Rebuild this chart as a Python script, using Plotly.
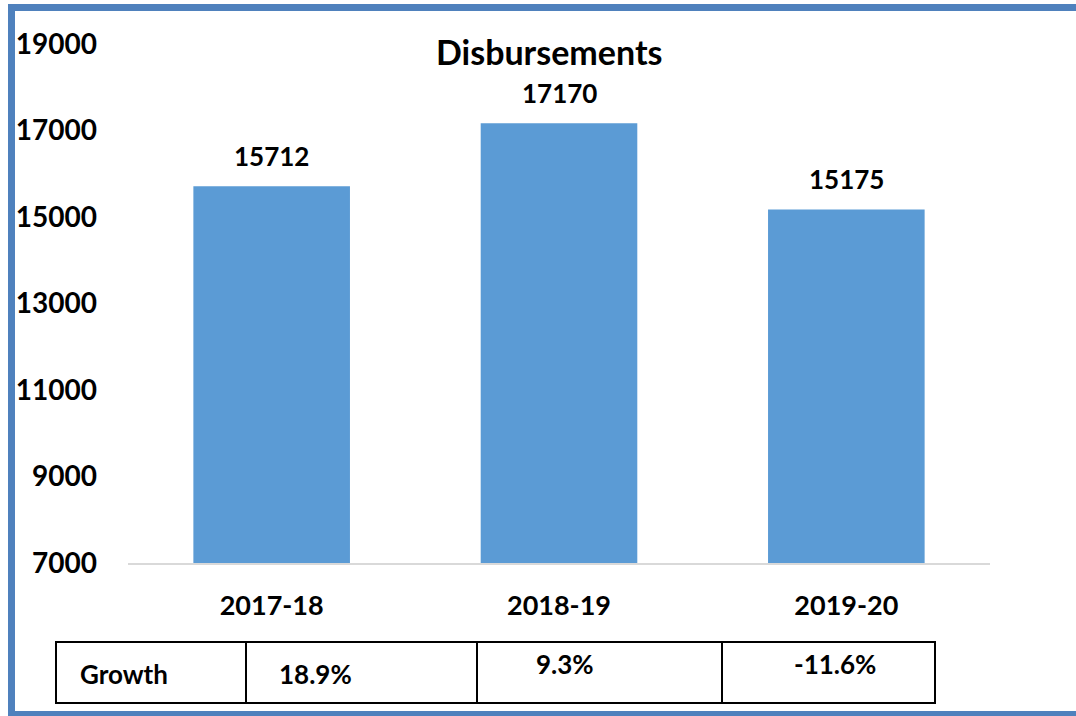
import plotly.graph_objects as go

# datos
years = ["2017-18", "2018-19", "2019-20"]
disbursements = [15712, 17170, 15175]
growth = ["18.9%", "9.3%", "-11.6%"]
y_ticks = [7000, 9000, 11000, 13000, 15000, 17000, 19000]

W, H = 1076, 716
FONT = "Lato"
BLUE_BORDER = "#4F81BD"


def px_x(p):
    return p / W


def px_y(p):
    return 1 - p / H


fig = go.Figure()
fig.add_trace(go.Bar(x=years, y=disbursements, marker=dict(color="#5B9BD5", line=dict(width=0)),
                     hoverinfo="x+y"))

# etiquetas de datos sobre las barras
for yr, v in zip(years, disbursements):
    fig.add_annotation(x=yr, y=v, xref="x", yref="y", text=f"<b>{v}</b>", showarrow=False,
                       yanchor="bottom", yshift=12, font=dict(size=26, family=FONT, color="black"))

fig.update_layout(
    width=W, height=H,
    margin=dict(l=0, r=0, t=0, b=0),
    plot_bgcolor="white", paper_bgcolor="white",
    showlegend=False,
    bargap=0.455,
    font=dict(family=FONT, color="black"),
)

fig.update_xaxes(domain=[px_x(128), px_x(990)], showline=True, linecolor="#D9D9D9", linewidth=2,
                 showgrid=False, ticks="", tickfont=dict(size=27, family=FONT, weight="bold"),
                 ticklabelstandoff=18, automargin=False)
fig.update_yaxes(domain=[px_y(563), px_y(44)], range=[7000, 19000], tickvals=y_ticks,
                 tickformat="d",
                 showgrid=False, zeroline=False, showline=False, ticks="",
                 tickfont=dict(size=28, family=FONT, weight="bold"),
                 ticklabelstandoff=30, automargin=False)

# título
fig.add_annotation(x=px_x(549), y=px_y(52), xref="paper", yref="paper", text="<b>Disbursements</b>",
                   xanchor="center", yanchor="middle",
                   showarrow=False, font=dict(size=34, family=FONT, color="black"))

# tabla de crecimiento
shapes = []
left, right, top, bottom = 56, 935, 642, 703
cols = [left, 246, 477, 722, right]
shapes.append(dict(type="rect", xref="paper", yref="paper", x0=px_x(left), x1=px_x(right),
                   y0=px_y(bottom), y1=px_y(top), line=dict(color="black", width=2)))
for cx in cols[1:-1]:
    shapes.append(dict(type="line", xref="paper", yref="paper", x0=px_x(cx), x1=px_x(cx),
                       y0=px_y(bottom), y1=px_y(top), line=dict(color="black", width=2)))

fig.add_annotation(x=px_x(78), y=px_y(674), xref="paper", yref="paper", text="<b>Growth</b>",
                   xanchor="left", yanchor="middle", showarrow=False,
                   font=dict(size=26, family=FONT, color="black"))
g_pos = [(315, 674), (565, 664), (835, 664)]
for g, (gx, gy) in zip(growth, g_pos):
    fig.add_annotation(x=px_x(gx), y=px_y(gy), xref="paper", yref="paper", text=f"<b>{g}</b>",
                       xanchor="center", yanchor="middle",
                       showarrow=False, font=dict(size=26, family=FONT, color="black"))

# borde azul
shapes.append(dict(type="rect", xref="paper", yref="paper", x0=px_x(8), x1=px_x(15),
                   y0=0, y1=px_y(4), fillcolor=BLUE_BORDER, line=dict(width=0)))
shapes.append(dict(type="rect", xref="paper", yref="paper", x0=px_x(8), x1=1,
                   y0=px_y(11), y1=px_y(4), fillcolor=BLUE_BORDER, line=dict(width=0)))
shapes.append(dict(type="rect", xref="paper", yref="paper", x0=px_x(8), x1=1,
                   y0=0, y1=px_y(711), fillcolor=BLUE_BORDER, line=dict(width=0)))
fig.update_layout(shapes=shapes)

fig.write_html("out.html", config={"displayModeBar": False},
               post_script="document.body.style.margin='0px';")
